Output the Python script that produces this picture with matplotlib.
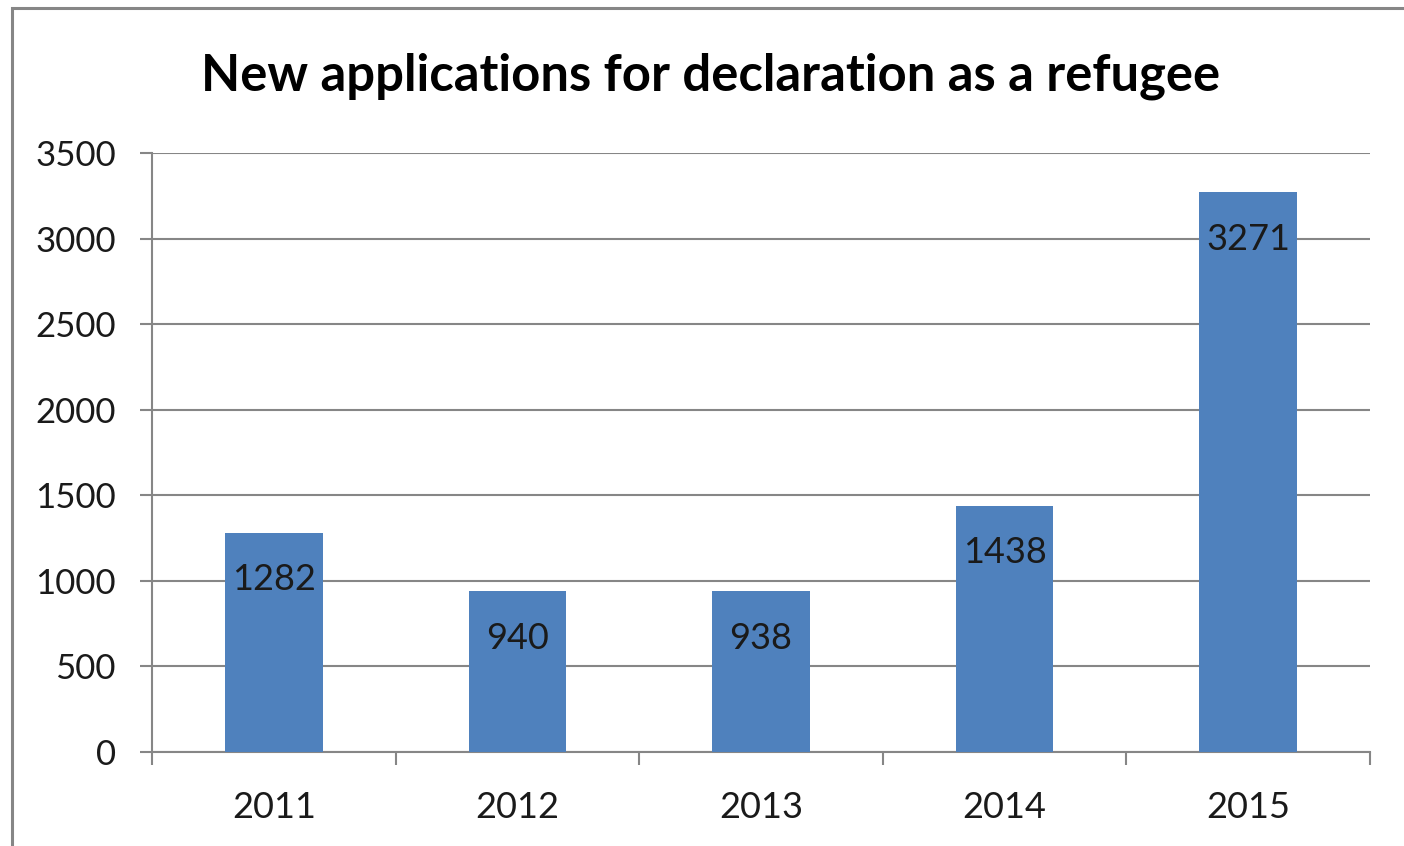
import matplotlib.pyplot as plt
from matplotlib.patches import Rectangle
from matplotlib.ticker import FixedLocator

years = ["2011", "2012", "2013", "2014", "2015"]
applications = [1282, 940, 938, 1438, 3271]
yticks = [0, 500, 1000, 1500, 2000, 2500, 3000, 3500]

bar_color = "#4F81BD"
grid_color = "#868686"
plt.rcParams["font.family"] = ["Lato", "DejaVu Sans"]

fig = plt.figure(figsize=(14.04, 8.46), dpi=100)
ax = fig.add_axes([152 / 1404, 1 - 752 / 846, (1370 - 152) / 1404, (752 - 153) / 846])

# outer chart frame (cropped at right and bottom in the original)
fig.patches.append(Rectangle((12 / 1404, -0.05), 1.2, 1 - 8 / 846 + 0.05,
                             transform=fig.transFigure, fill=False,
                             edgecolor=grid_color, linewidth=2.2))

x = list(range(len(years)))
bars = ax.bar(x, applications, width=0.4, color=bar_color, zorder=3)

for rect, val in zip(bars, applications):
    ax.annotate(str(val), (rect.get_x() + rect.get_width() / 2, rect.get_height()),
                xytext=(0, -22), textcoords="offset points",
                ha="center", va="top", fontsize=26, color="#1a1a1a", zorder=4)

ax.set_xlim(-0.5, len(years) - 0.5)
ax.set_ylim(0, 3500)
ax.set_yticks(yticks)
ax.set_yticklabels([str(t) for t in yticks])
ax.set_xticks(x)
ax.set_xticklabels(years)
ax.xaxis.set_minor_locator(FixedLocator([i - 0.5 for i in range(len(years) + 1)]))

ax.yaxis.grid(True, color=grid_color, linewidth=1.5, zorder=0)
for s in ["top", "right"]:
    ax.spines[s].set_visible(False)
for s in ["left", "bottom"]:
    ax.spines[s].set_color(grid_color)
    ax.spines[s].set_linewidth(1.5)

ax.tick_params(axis="y", length=9, width=1.5, color=grid_color, pad=17,
               labelsize=25, labelcolor="#1a1a1a")
ax.tick_params(axis="x", which="major", length=0, pad=28,
               labelsize=26, labelcolor="#1a1a1a")
ax.tick_params(axis="x", which="minor", length=9, width=1.5, color=grid_color)

fig.text(711 / 1404, 1 - 76 / 846, "New applications for declaration as a refugee",
         ha="center", va="center", fontsize=36.5, fontweight="bold", color="black")

fig.savefig("out.png", dpi=100)
